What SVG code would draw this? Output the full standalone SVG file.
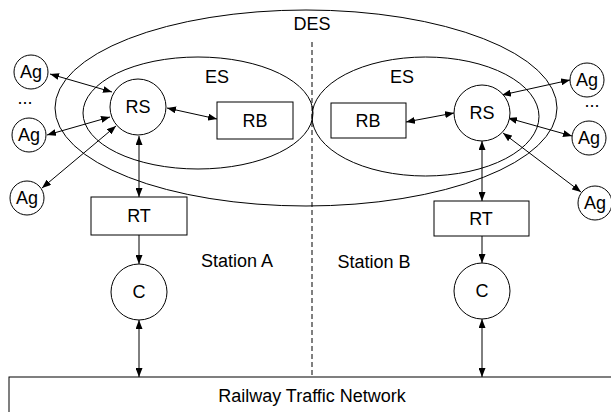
<svg xmlns="http://www.w3.org/2000/svg" width="611" height="412" viewBox="0 0 611 412">
<style>
  .s{fill:none;stroke:#000;stroke-width:1}
  .n{fill:#fff;stroke:#000;stroke-width:1}
  .t{font-family:"Liberation Sans",Arial,sans-serif;font-size:18px;fill:#000;text-anchor:middle}
  .c{fill:none;stroke:#000;stroke-width:1}
</style>
<defs>
  <marker id="ah" markerUnits="userSpaceOnUse" markerWidth="9" markerHeight="7" refX="9" refY="3.5" orient="auto-start-reverse">
    <path d="M0,0 L9,3.5 L0,7 z" fill="#000"/>
  </marker>
</defs>
<rect width="611" height="412" fill="#fff"/>
<g id="des">
  <ellipse class="s" cx="306" cy="108" rx="251" ry="98"/>
  <text class="t" x="312" y="30">DES</text>
</g>
<g id="es-a">
  <ellipse class="s" cx="198" cy="113" rx="115" ry="56"/>
  <text class="t" x="217" y="83">ES</text>
</g>
<g id="es-b">
  <ellipse class="s" cx="425.5" cy="116.5" rx="113.5" ry="59.5"/>
  <text class="t" x="402" y="83">ES</text>
</g>
<line x1="312" y1="42" x2="312" y2="377" stroke="#000" stroke-width="1" stroke-dasharray="5,3"/>
<g id="connectors">
  <line class="c" x1="50" y1="74" x2="112" y2="92" marker-start="url(#ah)" marker-end="url(#ah)"/>
  <line class="c" x1="47" y1="135" x2="110" y2="117" marker-start="url(#ah)" marker-end="url(#ah)"/>
  <line class="c" x1="42" y1="188" x2="116" y2="126" marker-start="url(#ah)" marker-end="url(#ah)"/>
  <line class="c" x1="167" y1="108" x2="217" y2="119" marker-start="url(#ah)" marker-end="url(#ah)"/>
  <line class="c" x1="139" y1="136" x2="139" y2="197" marker-start="url(#ah)" marker-end="url(#ah)"/>
  <line class="c" x1="139" y1="235" x2="139" y2="264" marker-end="url(#ah)"/>
  <line class="c" x1="139" y1="320" x2="139" y2="377" marker-start="url(#ah)" marker-end="url(#ah)"/>
  <line class="c" x1="406" y1="122" x2="454" y2="113" marker-start="url(#ah)" marker-end="url(#ah)"/>
  <line class="c" x1="502" y1="95" x2="570" y2="80" marker-start="url(#ah)" marker-end="url(#ah)"/>
  <line class="c" x1="508" y1="118" x2="572" y2="136" marker-start="url(#ah)" marker-end="url(#ah)"/>
  <line class="c" x1="503" y1="133" x2="581" y2="192" marker-start="url(#ah)" marker-end="url(#ah)"/>
  <line class="c" x1="482" y1="141" x2="482" y2="201" marker-start="url(#ah)" marker-end="url(#ah)"/>
  <line class="c" x1="482" y1="236" x2="482" y2="263" marker-end="url(#ah)"/>
  <line class="c" x1="482" y1="319" x2="482" y2="377" marker-start="url(#ah)" marker-end="url(#ah)"/>
</g>
<g id="rs-a"><circle class="n" cx="138" cy="107" r="28"/><text class="t" x="138" y="113">RS</text></g>
<g id="rb-a"><rect class="n" x="217" y="102" width="76" height="37"/><text class="t" x="255" y="127">RB</text></g>
<g id="rt-a"><rect class="n" x="91" y="197" width="96" height="38"/><text class="t" x="139" y="222">RT</text></g>
<g id="c-a"><circle class="n" cx="139" cy="292" r="28"/><text class="t" x="139" y="298">C</text></g>
<g id="ag-a1"><circle class="n" cx="31" cy="72" r="17"/><text class="t" x="31" y="78">Ag</text></g>
<g id="ag-a2"><circle class="n" cx="29" cy="135" r="17"/><text class="t" x="29" y="141">Ag</text></g>
<g id="ag-a3"><circle class="n" cx="27" cy="198" r="17"/><text class="t" x="27" y="204">Ag</text></g>
<text class="t" x="25" y="104">...</text>
<g id="rs-b"><circle class="n" cx="482" cy="113" r="28"/><text class="t" x="482" y="119">RS</text></g>
<g id="rb-b"><rect class="n" x="331" y="103" width="75" height="35"/><text class="t" x="368" y="127">RB</text></g>
<g id="rt-b"><rect class="n" x="434" y="201" width="95" height="35"/><text class="t" x="481" y="225">RT</text></g>
<g id="c-b"><circle class="n" cx="482" cy="291" r="28"/><text class="t" x="482" y="297">C</text></g>
<g id="ag-b1"><circle class="n" cx="587" cy="80" r="17"/><text class="t" x="587" y="86">Ag</text></g>
<g id="ag-b2"><circle class="n" cx="589" cy="138" r="17"/><text class="t" x="589" y="144">Ag</text></g>
<g id="ag-b3"><circle class="n" cx="595" cy="203" r="17"/><text class="t" x="595" y="209">Ag</text></g>
<text class="t" x="592" y="107">...</text>
<text class="t" x="237" y="267">Station A</text>
<text class="t" x="374" y="268">Station B</text>
<g id="network"><rect class="n" x="9" y="377" width="620" height="60"/><text class="t" x="312" y="402">Railway Traffic Network</text></g>
</svg>
